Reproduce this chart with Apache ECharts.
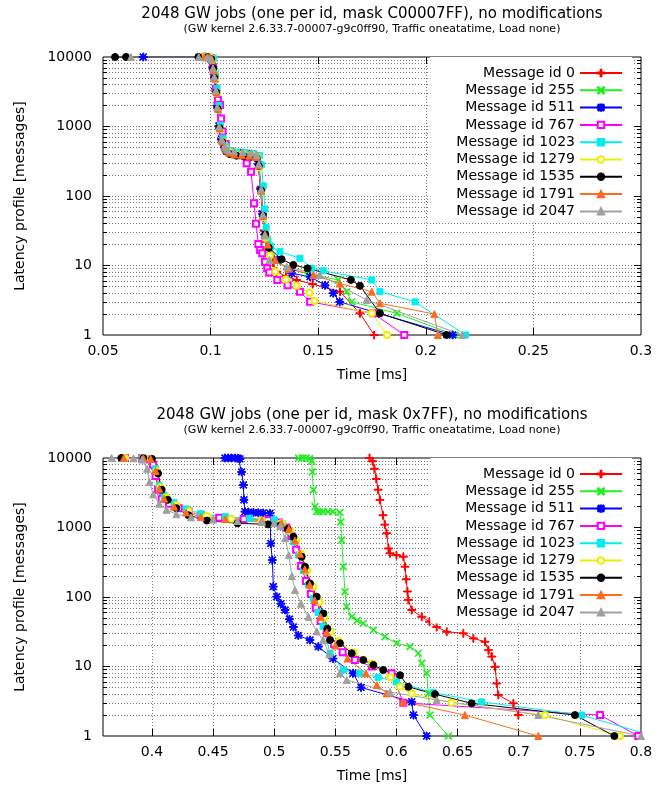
<!DOCTYPE html>
<html><head><meta charset="utf-8">
<script src="https://cdn.jsdelivr.net/npm/echarts@6/dist/echarts.min.js"></script>
<style>html,body{margin:0;padding:0;background:#fff}#c{width:668px;height:788px}</style>
</head><body><div id="c"></div>
<script>
// ---------- data ----------
const ids = [0, 255, 511, 767, 1023, 1279, 1535, 1791, 2047];
const topXLabels = [0.05, 0.1, 0.15, 0.2, 0.25, 0.3];
const topXTicks = [0.1, 0.15, 0.2, 0.25];
const botXLabels = [0.4, 0.45, 0.5, 0.55, 0.6, 0.65, 0.7, 0.75, 0.8];
const botXTicks = [0.4, 0.45, 0.5, 0.55, 0.6, 0.65, 0.7, 0.75];
const yLabels = [1, 10, 100, 1000, 10000];
const yMajor = [10, 100, 1000];
const yMinor = [2,3,4,5,6,7,8,9,20,30,40,50,60,70,80,90,200,300,400,500,600,700,800,900,2000,3000,4000,5000,6000,7000,8000,9000];

// top chart: [time ms, messages]
const top0 = [[0.0965,10000],[0.0995,9900],[0.1005,9400],[0.1013,6800],[0.1018,5200],[0.1025,3300],[0.1032,1900],[0.1041,980],[0.1052,640],[0.1066,490],[0.108,440],[0.110,420],[0.113,410],[0.116,402],[0.119,395],[0.1213,375],[0.1221,290],[0.1232,130],[0.124,60],[0.1248,32],[0.1258,22],[0.1275,15],[0.129,11],[0.1307,8.2],[0.135,7],[0.14,6.2],[0.1474,5.4],[0.1601,4.2],[0.1694,2.05],[0.176,1]];
const top255 = [[0.097,10000],[0.0998,9900],[0.1007,9300],[0.1014,6600],[0.1019,5000],[0.1026,3200],[0.1033,1850],[0.1042,950],[0.1054,620],[0.1068,480],[0.1082,435],[0.1105,418],[0.1135,408],[0.1165,400],[0.1195,392],[0.1217,360],[0.1225,270],[0.1236,115],[0.1244,50],[0.1255,26],[0.1265,20],[0.128,16],[0.131,11.5],[0.136,9],[0.145,7.6],[0.1594,6.2],[0.1633,4.2],[0.1656,3.0],[0.1865,2.05],[0.2135,1]];
const top511 = [[0.0687,10000],[0.0975,10000],[0.1002,9500],[0.101,7200],[0.1016,5600],[0.1023,3500],[0.103,2000],[0.1039,1020],[0.105,660],[0.1064,505],[0.1079,445],[0.111,420],[0.114,410],[0.118,400],[0.1212,380],[0.1222,285],[0.1233,125],[0.1241,55],[0.1251,28],[0.127,18],[0.131,12],[0.1377,7.7],[0.1462,6.9],[0.1532,5.2],[0.157,4],[0.16,3.0],[0.178,2.05],[0.2125,1]];
const top767 = [[0.098,10000],[0.1003,9600],[0.1011,7000],[0.1017,5300],[0.1025,3500],[0.1034,2400],[0.1044,2040],[0.1049,1300],[0.1056,850],[0.107,560],[0.109,440],[0.1115,400],[0.1145,385],[0.1168,295],[0.1188,224],[0.1202,78.5],[0.1211,40],[0.1222,20.4],[0.123,16.7],[0.124,15],[0.1253,11.3],[0.1263,9.1],[0.1273,7.9],[0.131,6.2],[0.1358,5.2],[0.1415,4.2],[0.1462,3.0],[0.1756,2.05],[0.19,1]];
const top1023 = [[0.0985,10000],[0.1015,9500],[0.1022,6000],[0.103,3500],[0.1038,2000],[0.1046,1050],[0.1057,680],[0.107,520],[0.109,450],[0.112,430],[0.116,420],[0.12,410],[0.1228,380],[0.1236,280],[0.1245,140],[0.1252,65],[0.1258,35],[0.1266,24],[0.128,19],[0.1322,15.8],[0.1415,12.7],[0.147,9.1],[0.1524,8.4],[0.1749,6.2],[0.1787,4.2],[0.195,3.0],[0.2185,1]];
const top1279 = [[0.097,10000],[0.1,9800],[0.1008,9000],[0.1015,6400],[0.1021,4800],[0.1028,3000],[0.1035,1750],[0.1044,930],[0.1056,610],[0.107,480],[0.1085,430],[0.111,412],[0.115,402],[0.119,393],[0.1218,365],[0.1226,260],[0.1236,118],[0.1245,50],[0.1255,25],[0.1275,14],[0.13,8.2],[0.135,6.3],[0.14,5.1],[0.1459,4.07],[0.1482,3.08],[0.1749,2.05],[0.182,1]];
const top1535 = [[0.0556,10000],[0.0607,10000],[0.0943,10000],[0.0985,9950],[0.1004,9300],[0.1012,6900],[0.1018,5000],[0.1026,3100],[0.1033,1800],[0.1042,950],[0.1054,600],[0.107,450],[0.109,400],[0.112,380],[0.1155,372],[0.119,368],[0.1215,350],[0.1224,270],[0.1235,120],[0.1243,52],[0.1254,28],[0.127,18],[0.133,12.3],[0.1384,10.2],[0.1451,9.1],[0.1652,6.2],[0.1694,5.1],[0.1787,2.05],[0.2096,1]];
const top1791 = [[0.097,10000],[0.0995,9900],[0.1006,9200],[0.1014,6500],[0.102,4900],[0.1027,3100],[0.1034,1800],[0.1043,940],[0.1055,610],[0.107,470],[0.1085,420],[0.111,395],[0.1145,385],[0.118,380],[0.1212,365],[0.1223,275],[0.1234,120],[0.1243,52],[0.1253,28],[0.1265,20],[0.13,12],[0.1365,9],[0.1478,7.3],[0.16,5.5],[0.1749,4.2],[0.1787,2.86],[0.204,2],[0.2056,1]];
const top2047 = [[0.063,10000],[0.0945,10000],[0.0985,9900],[0.1003,9300],[0.1011,6900],[0.1017,5200],[0.1024,3300],[0.1031,1900],[0.104,1000],[0.1052,650],[0.1066,510],[0.108,460],[0.111,440],[0.115,430],[0.119,420],[0.1215,390],[0.1224,285],[0.1235,125],[0.1243,54],[0.1252,27],[0.1273,12],[0.1354,9.6],[0.1508,7.3],[0.1725,3.2],[0.217,1]];

// bottom chart: [time ms, messages]
const bot0 = [[0.578,10000],[0.5805,9000],[0.582,7000],[0.5835,5000],[0.585,3500],[0.5865,2500],[0.589,1500],[0.5905,1100],[0.592,825],[0.5935,500],[0.5947,425],[0.6,400],[0.6056,380],[0.607,273],[0.608,180],[0.609,120],[0.6097,91],[0.6125,65],[0.6207,52],[0.627,44],[0.6329,37],[0.6411,31.6],[0.6547,30],[0.6629,25.4],[0.6724,22.7],[0.6752,17.2],[0.678,13.9],[0.6806,9.9],[0.682,5.7],[0.6833,3.9],[0.6956,2.95],[0.6997,2.0]];
const bot255 = [[0.52,10000],[0.523,10000],[0.526,10000],[0.529,9800],[0.5307,9000],[0.5312,6300],[0.532,3470],[0.5334,2000],[0.5347,1690],[0.537,1690],[0.54,1690],[0.544,1690],[0.548,1680],[0.5538,1650],[0.5545,1200],[0.5552,660],[0.5565,273],[0.5579,119],[0.5593,72.5],[0.5634,52],[0.568,46],[0.5729,41.8],[0.5811,33.5],[0.5906,26.8],[0.6002,21.6],[0.6111,19.3],[0.6179,15.5],[0.6207,11.1],[0.6247,8],[0.6261,4.1],[0.6274,2],[0.6424,1]];
const bot511 = [[0.4598,10000],[0.4625,10000],[0.465,10000],[0.468,10000],[0.4705,9900],[0.472,9700],[0.4734,6300],[0.4748,4100],[0.4753,2500],[0.4761,1690],[0.479,1660],[0.483,1640],[0.487,1630],[0.491,1620],[0.4966,1600],[0.4972,590],[0.4985,340],[0.4993,141],[0.5021,101],[0.5055,80],[0.5089,65],[0.5125,48],[0.5157,37],[0.5197,28],[0.5293,24],[0.5361,19.3],[0.548,13],[0.5645,8],[0.571,5],[0.6125,3.1],[0.6139,2.0],[0.6247,1]];
const bot767 = [[0.378,10000],[0.392,9900],[0.3985,9500],[0.401,8000],[0.403,5500],[0.405,3500],[0.408,2600],[0.414,2200],[0.422,1900],[0.43,1700],[0.44,1500],[0.455,1380],[0.475,1320],[0.495,1270],[0.504,1180],[0.51,1000],[0.514,750],[0.518,480],[0.522,280],[0.526,170],[0.53,110],[0.534,70],[0.538,45],[0.543,30],[0.549,21],[0.556,16],[0.566,12.4],[0.58,10],[0.596,8],[0.6056,3],[0.7665,2],[0.7978,1]];
const bot1023 = [[0.376,10000],[0.392,9900],[0.398,9700],[0.403,7000],[0.406,4000],[0.41,2900],[0.418,2300],[0.428,1850],[0.44,1580],[0.46,1430],[0.48,1360],[0.5,1290],[0.507,1120],[0.512,880],[0.516,620],[0.52,400],[0.524,240],[0.528,150],[0.532,95],[0.536,60],[0.54,38],[0.5457,15.5],[0.5565,8.9],[0.57,8],[0.585,7],[0.6,6],[0.63,4.2],[0.6697,3.1],[0.7515,2.0],[0.81,1]];
const bot1279 = [[0.378,10000],[0.393,9900],[0.399,9700],[0.404,6500],[0.407,3800],[0.412,2700],[0.42,2100],[0.43,1720],[0.445,1460],[0.465,1340],[0.49,1260],[0.506,1150],[0.513,900],[0.518,650],[0.522,420],[0.527,240],[0.532,140],[0.537,85],[0.541,50],[0.546,32],[0.553,23],[0.565,16],[0.58,11],[0.595,7],[0.6029,5.1],[0.6125,4.1],[0.6451,3.0],[0.7215,2.0],[0.7828,1]];
const bot1535 = [[0.375,10000],[0.393,9900],[0.4,9700],[0.405,6000],[0.408,3500],[0.413,2500],[0.42,1900],[0.43,1500],[0.445,1260],[0.47,1150],[0.495,1110],[0.505,1070],[0.511,950],[0.5157,736],[0.5225,380],[0.5252,273],[0.5293,157],[0.5348,101],[0.5402,58],[0.5435,35],[0.5457,24],[0.5538,21.6],[0.5634,15.5],[0.5729,12.4],[0.5811,10.5],[0.5892,8.9],[0.6029,7.5],[0.6097,5.1],[0.6315,4.0],[0.6615,2.95],[0.746,2.0],[0.7782,1]];
const bot1791 = [[0.377,10000],[0.393,9900],[0.399,9700],[0.403,6500],[0.406,3600],[0.41,2600],[0.418,2000],[0.428,1650],[0.44,1420],[0.46,1320],[0.49,1260],[0.506,1150],[0.512,950],[0.517,650],[0.521,420],[0.525,250],[0.529,150],[0.533,90],[0.538,52],[0.543,31],[0.55,20],[0.56,13],[0.575,8],[0.584,5.4],[0.592,4.1],[0.6056,3.1],[0.656,2.0],[0.716,1]];
const bot2047 = [[0.367,10000],[0.385,9900],[0.392,9500],[0.396,7000],[0.398,4500],[0.401,3000],[0.406,2200],[0.412,1800],[0.42,1550],[0.432,1400],[0.45,1300],[0.47,1240],[0.49,1200],[0.5,1150],[0.505,1050],[0.509,700],[0.512,400],[0.5145,200],[0.517,126],[0.522,80],[0.528,52],[0.5348,32],[0.54,24],[0.545,15],[0.5538,8],[0.5593,6.4],[0.5947,4.3],[0.6329,3.3],[0.716,2.0],[0.80,1]];

const topData = [top0, top255, top511, top767, top1023, top1279, top1535, top1791, top2047];
const botData = [bot0, bot255, bot511, bot767, bot1023, bot1279, bot1535, bot1791, bot2047];

// ---------- styling ----------
const FONT = 'DejaVu Sans';
const names = ids.map(i => 'Message id ' + i);
const colors = ['#ff0000', '#22ee22', '#0000ff', '#ff00ff', '#00eeee', '#eeee00', '#000000', '#ff6a1f', '#a0a0a0'];
const PLUS = 'M-5,-0.6L5,-0.6L5,0.6L-5,0.6ZM-0.6,-5L0.6,-5L0.6,5L-0.6,5Z';
const CROSS = 'M-3.58,-4.42L4.42,3.58L3.58,4.42L-4.42,-3.58ZM-3.58,4.42L-4.42,3.58L3.58,-4.42L4.42,-3.58Z';
const symbols = ['path://' + PLUS, 'path://' + CROSS, 'path://' + PLUS + CROSS, 'emptyRect', 'rect', 'emptyCircle', 'circle', 'triangle', 'triangle'];
const symSizes = [8, 7, 8, 6, 6, 6, 7, 7, 7];

const grids = [
  { left: 103, top: 57, width: 538, height: 278 },
  { left: 103, top: 458, width: 538, height: 278 }
];
const dotted = { type: [1, 2], color: '#777', width: 1 };
const axisText = { fontSize: 14, fontFamily: FONT, color: '#000' };

function xAxes(gi, min, max, labels, ticks) {
  return [
    { gridIndex: gi, type: 'value', position: 'bottom', min, max,
      axisLine: { show: false },
      axisTick: { show: true, inside: true, length: 7, customValues: ticks, lineStyle: { color: '#000' } },
      axisLabel: Object.assign({ customValues: labels, margin: 9, formatter: v => String(v) }, axisText),
      splitLine: { show: true, lineStyle: dotted },
      name: 'Time [ms]', nameLocation: 'middle', nameGap: 33, nameTextStyle: axisText },
    { gridIndex: gi, type: 'value', position: 'top', min, max,
      axisLine: { show: false },
      axisTick: { show: true, inside: true, length: 7, customValues: ticks, lineStyle: { color: '#000' } },
      axisLabel: { show: false }, splitLine: { show: false } }
  ];
}
function yAxes(gi) {
  const base = { gridIndex: gi, type: 'log', logBase: 10, min: 1, max: 10000, axisLine: { show: false } };
  return [
    Object.assign({}, base, { position: 'left',
      axisTick: { show: true, inside: true, length: 7, customValues: yMajor, lineStyle: { color: '#000' } },
      axisLabel: Object.assign({ customValues: yLabels, margin: 11, formatter: v => String(Math.round(v)) }, axisText),
      splitLine: { show: true, lineStyle: dotted },
      name: 'Latency profile [messages]', nameLocation: 'middle', nameGap: 76, nameRotate: 90, nameTextStyle: axisText }),
    Object.assign({}, base, { position: 'right',
      axisTick: { show: true, inside: true, length: 7, customValues: yMajor, lineStyle: { color: '#000' } },
      axisLabel: { show: false }, splitLine: { show: false } }),
    Object.assign({}, base, { position: 'left',
      axisTick: { show: true, inside: true, length: 4, customValues: yMinor, lineStyle: { color: '#000' } },
      axisLabel: { show: false }, splitLine: { show: true, lineStyle: dotted } }),
    Object.assign({}, base, { position: 'right',
      axisTick: { show: true, inside: true, length: 4, customValues: yMinor, lineStyle: { color: '#000' } },
      axisLabel: { show: false }, splitLine: { show: false } })
  ];
}

const series = [];
[topData, botData].forEach((set, gi) => {
  set.forEach((d, i) => {
    series.push({
      type: 'line', name: names[i], xAxisIndex: gi * 2, yAxisIndex: gi * 4,
      data: d, symbol: symbols[i], symbolSize: symSizes[i], showSymbol: true,
      lineStyle: { width: 1, color: colors[i] },
      itemStyle: { color: colors[i], borderColor: colors[i], borderWidth: 1 },
      emphasis: { disabled: true }, clip: true, animation: false
    });
  });
});

function legend(top) {
  return {
    data: names, orient: 'vertical', align: 'right', right: 36, top: top,
    padding: [9, 9, 4, 26], itemGap: 3.3, itemWidth: 42, itemHeight: 8,
    backgroundColor: '#fff', selectedMode: false,
    textStyle: { fontSize: 14, fontFamily: FONT, color: '#000', lineHeight: 14 }
  };
}

function titleText(y, text, size) {
  return { type: 'text', x: 372, y: y, style: { text: text, fontSize: size, fontFamily: FONT, fill: '#000', align: 'center', verticalAlign: 'middle' } };
}

const option = {
  animation: false,
  backgroundColor: '#fff',
  textStyle: { fontFamily: FONT },
  grid: grids.map(g => Object.assign({ show: true, borderColor: '#000', borderWidth: 1, backgroundColor: 'transparent' }, g)),
  xAxis: xAxes(0, 0.05, 0.3, topXLabels, topXTicks).concat(xAxes(1, 0.36, 0.8, botXLabels, botXTicks)),
  yAxis: yAxes(0).concat(yAxes(1)),
  legend: [legend(57), legend(458)],
  graphic: [
    titleText(14, '2048 GW jobs (one per id, mask C00007FF), no modifications', 15),
    titleText(29, '(GW kernel 2.6.33.7-00007-g9c0ff90, Traffic oneatatime, Load none)', 11),
    titleText(415, '2048 GW jobs (one per id, mask 0x7FF), no modifications', 15),
    titleText(430, '(GW kernel 2.6.33.7-00007-g9c0ff90, Traffic oneatatime, Load none)', 11)
  ],
  series: series
};

const chart = echarts.init(document.getElementById('c'), null, { renderer: 'canvas' });
chart.setOption(option);
</script>
</body></html>
